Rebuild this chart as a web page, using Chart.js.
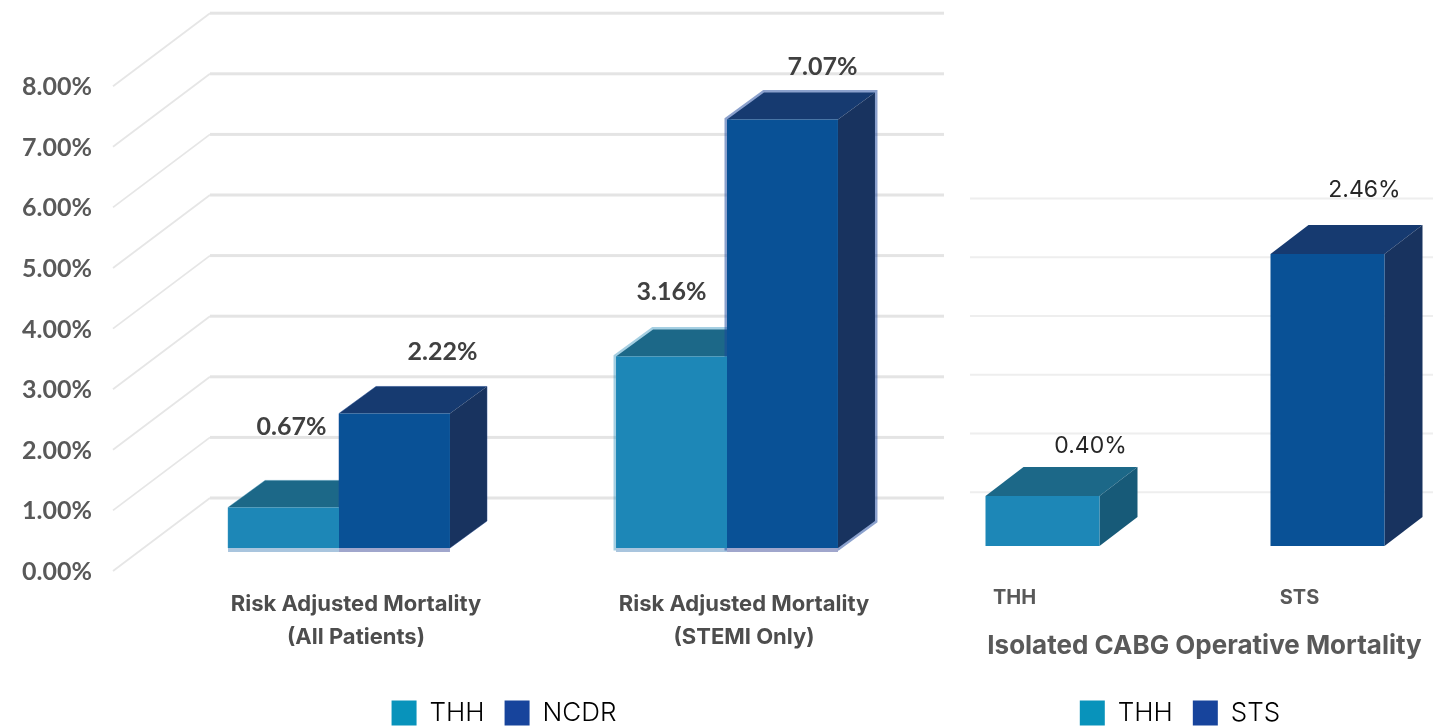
<!DOCTYPE html>
<html>
<head>
<meta charset="utf-8">
<script src="https://cdn.jsdelivr.net/npm/chart.js@4/dist/chart.umd.js"></script>
<style>
  html, body { margin: 0; padding: 0; background: #fff; overflow: hidden; width: 1433px; height: 728px; }
  canvas { position: absolute; top: 0; }
  #leftChart { left: 0; }
  #rightChart { left: 900px; }
</style>
</head>
<body>
<canvas id="leftChart"></canvas>
<canvas id="rightChart"></canvas>
<script>
const leftCategories = [["Risk Adjusted Mortality", "(All Patients)"], ["Risk Adjusted Mortality", "(STEMI Only)"]];
const thhValues = [0.67, 3.16];
const ncdrValues = [2.22, 7.07];
const leftGridValues = [0, 1, 2, 3, 4, 5, 6, 7, 8];

const rightCategories = ["THH", "STS"];
const rightValues = [0.40, 2.46];
const rightGridValues = [0.5, 1, 1.5, 2, 2.5, 3];
const rightTitle = "Isolated CABG Operative Mortality";

const TEAL = { front: "#1d87b7", top: "#1c6888", side: "#175a78", halo: "rgba(29,135,183,0.4)", strip: "#a9c5de", swatch: "#0893bb" };
const BLUE = { front: "#095196", top: "#163a70", side: "#18335f", halo: "rgba(23,68,156,0.5)", strip: "#a0a6cc", swatch: "#17449c" };

function path(ctx, pts) {
  ctx.beginPath();
  pts.forEach((p, i) => (i ? ctx.lineTo(p[0], p[1]) : ctx.moveTo(p[0], p[1])));
  ctx.closePath();
}

// draws the top and side of each bar, the library draws the front on top of them
const extrudePlugin = {
  id: "extrude",
  beforeDatasetsDraw(chart, args, opts) {
    const ctx = chart.ctx;
    chart.data.datasets.forEach((ds, d) => {
      chart.getDatasetMeta(d).data.forEach((bar, i) => {
        const look = opts.looks(d, i);
        const l = bar.x - bar.width / 2;
        const r = bar.x + bar.width / 2;
        const y = bar.y;
        const b = bar.base;
        const halo = opts.halo[i];
        ctx.save();
        if (halo > 0) {
          path(ctx, [[l, b], [l, y], [l + opts.dx, y - opts.dy], [r + opts.dx, y - opts.dy], [r + opts.dx, b - opts.dy], [r, b]]);
          ctx.lineWidth = halo * 2;
          ctx.strokeStyle = look.halo;
          ctx.stroke();
        }
        if (opts.strip) {
          ctx.fillStyle = look.strip;
          ctx.fillRect(l, b, bar.width, opts.strip);
        }
        path(ctx, [[l, y], [r, y], [r + opts.dx, y - opts.dy], [l + opts.dx, y - opts.dy]]);
        ctx.fillStyle = look.top;
        ctx.fill();
        path(ctx, [[r, y], [r + opts.dx, y - opts.dy], [r + opts.dx, b - opts.dy], [r, b]]);
        ctx.fillStyle = look.side;
        ctx.fill();
        ctx.restore();
      });
    });
  },
};

const wallPlugin = {
  id: "wall",
  beforeDatasetsDraw(chart, args, opts) {
    const ctx = chart.ctx;
    const y = chart.scales.y;
    ctx.save();
    opts.values.forEach((v) => {
      const py = y.getPixelForValue(v) + opts.shift;
      if (opts.slant) {
        ctx.beginPath();
        ctx.moveTo(opts.x0 - opts.slant[0], py + opts.slant[1]);
        ctx.lineTo(opts.x0, py);
        ctx.lineWidth = 1.8;
        ctx.strokeStyle = "#e6e6e6";
        ctx.stroke();
      }
      ctx.fillStyle = opts.color;
      ctx.fillRect(opts.x0, py - opts.thick / 2, opts.x1 - opts.x0, opts.thick);
    });
    ctx.restore();
  },
};

const valueLabelPlugin = {
  id: "valueLabels",
  afterDatasetsDraw(chart, args, opts) {
    const ctx = chart.ctx;
    ctx.save();
    ctx.font = opts.font;
    ctx.fillStyle = opts.color;
    ctx.textAlign = "center";
    ctx.textBaseline = "middle";
    chart.data.datasets.forEach((ds, d) => {
      chart.getDatasetMeta(d).data.forEach((bar, i) => {
        const nudge = opts.nudge[d][i];
        ctx.fillText(ds.data[i].toFixed(2) + "%", bar.x + nudge[0], bar.y + nudge[1]);
      });
    });
    ctx.restore();
  },
};

// legend sits under the bars but not centred on the plot, so move it after layout
const legendSpotPlugin = {
  id: "legendSpot",
  afterLayout(chart, args, opts) {
    const legend = chart.legend;
    const w = legend.right - legend.left;
    const h = legend.bottom - legend.top;
    legend.left = opts.centerX - w / 2;
    legend.right = legend.left + w;
    legend.top = opts.top;
    legend.bottom = opts.top + h;
  },
};

const captionPlugin = {
  id: "caption",
  afterDraw(chart, args, opts) {
    if (!opts.text) return;
    const ctx = chart.ctx;
    ctx.save();
    ctx.font = opts.font;
    ctx.fillStyle = opts.color;
    ctx.textAlign = "center";
    ctx.textBaseline = "middle";
    ctx.fillText(opts.text, opts.x, opts.y);
    ctx.restore();
  },
};

const allPlugins = [wallPlugin, extrudePlugin, valueLabelPlugin, legendSpotPlugin, captionPlugin];

function sizeCanvas(id, w, h) {
  const c = document.getElementById(id);
  c.width = w;
  c.height = h;
  c.style.width = w + "px";
  c.style.height = h + "px";
  return c;
}

new Chart(sizeCanvas("leftChart", 950, 728), {
  type: "bar",
  data: {
    labels: leftCategories,
    datasets: [
      { label: "THH", data: thhValues, backgroundColor: TEAL.front, legendColor: TEAL.swatch },
      { label: "NCDR", data: ncdrValues, backgroundColor: BLUE.front, legendColor: BLUE.swatch },
    ],
  },
  options: {
    responsive: false,
    animation: false,
    layout: { autoPadding: false, padding: { top: 63.2, right: 29 } },
    datasets: { bar: { barPercentage: 1, categoryPercentage: 0.572, clip: false } },
    scales: {
      x: {
        grid: { display: false, drawTicks: false },
        border: { display: false },
        afterFit: (axis) => { axis.height = 728 - axis.chart.legend.height - 548; },
        ticks: {
          color: "#4d4d4d",
          font: { family: "Inter", size: 22, weight: "700", lineHeight: 1.5 },
          padding: 40,
          labelOffset: 17,
          maxRotation: 0,
          autoSkip: false,
        },
      },
      y: {
        min: 0,
        max: 8,
        grid: { display: false, drawTicks: false },
        border: { display: false },
        // the big tick padding would otherwise push the plot top down
        afterFit: (axis) => { axis.width = 145; axis.paddingTop = 0; },
        ticks: {
          stepSize: 1,
          color: "#595959",
          font: { family: "Lato", size: 25, weight: "700" },
          padding: 53,
          labelOffset: 24,
          callback: (v) => v.toFixed(2) + "%",
        },
      },
    },
    plugins: {
      tooltip: { enabled: false },
      legend: {
        position: "bottom",
        labels: {
          boxWidth: 25,
          boxHeight: 25,
          padding: 20,
          color: "#333333",
          font: { family: "Inter", size: 26, weight: "300" },
          generateLabels: (chart) => chart.data.datasets.map((ds, i) => ({
            text: ds.label, fillStyle: ds.legendColor, strokeStyle: ds.legendColor, lineWidth: 0, datasetIndex: i,
          })),
        },
      },
      legendSpot: { centerX: 504, top: 680 },
      wall: { values: leftGridValues, shift: -50, x0: 210, x1: 944, slant: [97, 73], color: "#e4e4e4", thick: 3 },
      extrude: { dx: 37, dy: 27, halo: [0.5, 2.5], strip: 4, looks: (d) => (d === 0 ? TEAL : BLUE) },
      valueLabels: {
        font: "700 25px Lato",
        color: "#404040",
        nudge: [[[8, -80], [0, -65]], [[48, -62], [40, -53]]],
      },
      caption: {},
    },
  },
  plugins: allPlugins,
});

new Chart(sizeCanvas("rightChart", 570, 728), {
  type: "bar",
  data: {
    labels: rightCategories,
    datasets: [
      { data: rightValues, backgroundColor: [TEAL.front, BLUE.front], legendColors: [TEAL.swatch, BLUE.swatch], base: -0.026 },
    ],
  },
  options: {
    responsive: false,
    animation: false,
    layout: { autoPadding: false, padding: { top: 190.5 } },
    datasets: { bar: { barPercentage: 1, categoryPercentage: 0.4, clip: false } },
    scales: {
      x: {
        grid: { display: false, drawTicks: false },
        border: { display: false },
        afterFit: (axis) => { axis.height = 728 - axis.chart.legend.height - 543; },
        ticks: {
          color: "#595959",
          font: { family: "Inter", size: 20, weight: "700" },
          padding: 43,
          labelOffset: -28,
          maxRotation: 0,
        },
      },
      y: { display: false, min: 0, max: 3 },
    },
    plugins: {
      tooltip: { enabled: false },
      legend: {
        position: "bottom",
        labels: {
          boxWidth: 25,
          boxHeight: 25,
          padding: 20,
          color: "#333333",
          font: { family: "Inter", size: 26, weight: "300" },
          generateLabels: (chart) => chart.data.labels.map((label, i) => ({
            text: label, fillStyle: chart.data.datasets[0].legendColors[i], strokeStyle: chart.data.datasets[0].legendColors[i], lineWidth: 0, index: i,
          })),
        },
      },
      legendSpot: { centerX: 280, top: 680 },
      wall: { values: rightGridValues, shift: 8, x0: 70, x1: 533, color: "#eeeeee", thick: 2 },
      extrude: { dx: 38, dy: 29, halo: [0, 0], strip: 0, looks: (d, i) => (i === 0 ? TEAL : BLUE) },
      valueLabels: {
        font: "400 23px Inter",
        color: "#262626",
        nudge: [[[48, -50], [37, -64]]],
      },
      caption: { text: rightTitle, x: 304.5, y: 646, font: "700 26px Inter", color: "#595959" },
    },
  },
  plugins: allPlugins,
});
</script>
</body>
</html>
